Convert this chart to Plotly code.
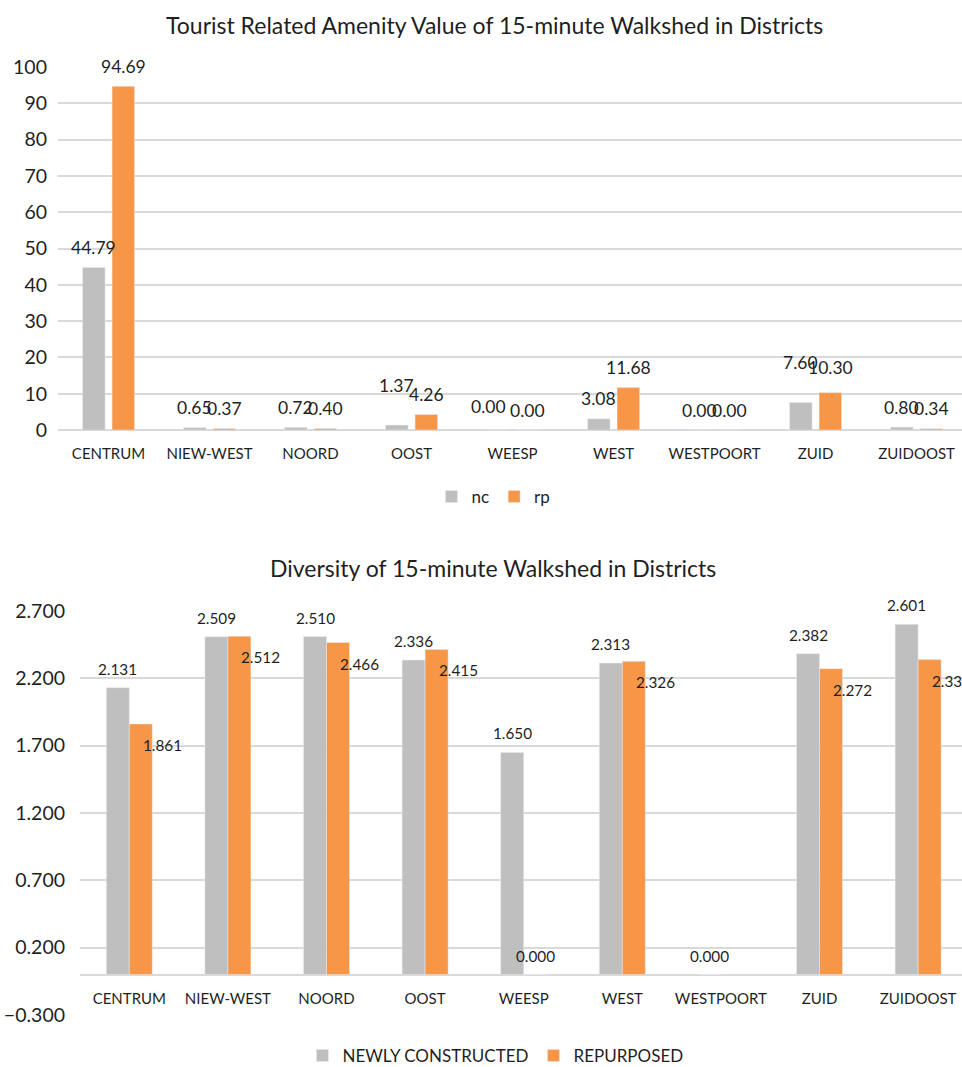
import plotly.graph_objects as go

# ---- data -------------------------------------------------------------
districts = ["CENTRUM", "NIEW-WEST", "NOORD", "OOST", "WEESP",
             "WEST", "WESTPOORT", "ZUID", "ZUIDOOST"]

tourist_nc = [44.79, 0.65, 0.72, 1.37, 0.00, 3.08, 0.00, 7.60, 0.80]
tourist_rp = [94.69, 0.37, 0.40, 4.26, 0.00, 11.68, 0.00, 10.30, 0.34]

diversity_nc = [2.131, 2.509, 2.510, 2.336, 1.650, 2.313, 0.000, 2.382, 2.601]
diversity_rp = [1.861, 2.512, 2.466, 2.415, 0.000, 2.326, None, 2.272, 2.339]

# ---- style ------------------------------------------------------------
GREY = "#bfbfbf"
ORANGE = "#f79646"
GRID = "#d9d9d9"
TEXT = "#1f1f1f"
FONT = "Lato"

W, H = 962, 1067

# hand-placed label nudges (x px, extra y px) for crowded data labels
top_nudge = {
    ("nc", "OOST"): (0, 20),
    ("nc", "ZUID"): (0, 20),
    ("rp", "ZUID"): (0, 5),
    ("nc", "WEESP"): (-9, 4),
}

fig = go.Figure()

# ---- upper chart: tourist amenity value -------------------------------
fig.add_trace(go.Bar(x=districts, y=tourist_nc, name="nc", marker_color=GREY,
                     width=0.223, offset=-0.257, xaxis="x", yaxis="y",
                     legend="legend", hoverinfo="x+y"))
fig.add_trace(go.Bar(x=districts, y=tourist_rp, name="rp", marker_color=ORANGE,
                     width=0.223, offset=0.035, xaxis="x", yaxis="y",
                     legend="legend", hoverinfo="x+y"))

annotations = []
for key, vals, xs in (("nc", tourist_nc, -14.75), ("rp", tourist_rp, 14.75)):
    for d, v in zip(districts, vals):
        dx, dy = top_nudge.get((key, d), (0, 0))
        annotations.append(dict(
            x=d, y=v, xref="x", yref="y", text=f"{v:.2f}", showarrow=False,
            xshift=xs + dx, yshift=20 + dy, yanchor="middle",
            font=dict(family=FONT, size=17.5, color=TEXT)))

# ---- lower chart: diversity ------------------------------------------
fig.add_trace(go.Bar(x=districts, y=diversity_nc, name="NEWLY CONSTRUCTED",
                     marker_color=GREY, width=0.2333, offset=-0.2333,
                     xaxis="x2", yaxis="y2", legend="legend2", hoverinfo="x+y"))
fig.add_trace(go.Bar(x=districts, y=diversity_rp, name="REPURPOSED",
                     marker_color=ORANGE, width=0.2333, offset=0.0,
                     xaxis="x2", yaxis="y2", legend="legend2", hoverinfo="x+y"))

label2_font = dict(family=FONT, size=15.3, color=TEXT)
for d, v in zip(districts, diversity_nc):
    annotations.append(dict(
        x=d, y=v, xref="x2", yref="y2", text=f"{v:.3f}", showarrow=False,
        xshift=-11.5, yshift=19, yanchor="middle", font=label2_font))
for d, v in zip(districts, diversity_rp):
    if v is None:
        continue
    if v == 0:
        annotations.append(dict(
            x=d, y=v, xref="x2", yref="y2", text=f"{v:.3f}", showarrow=False,
            xshift=11.5, yshift=19, yanchor="middle", font=label2_font))
    else:
        annotations.append(dict(
            x=d, y=v, xref="x2", yref="y2", text=f"{v:.3f}", showarrow=False,
            xshift=11.5, yshift=-21, xanchor="left", yanchor="middle",
            font=label2_font))

# chart titles
annotations.append(dict(
    x=495 / W, y=1 - 25 / H, xref="paper", yref="paper", showarrow=False,
    text="Tourist Related Amenity Value of 15-minute Walkshed in Districts",
    font=dict(family=FONT, size=23, color=TEXT), xanchor="center", yanchor="middle"))
annotations.append(dict(
    x=493 / W, y=1 - 568 / H, xref="paper", yref="paper", showarrow=False,
    text="Diversity of 15-minute Walkshed in Districts",
    font=dict(family=FONT, size=23, color=TEXT), xanchor="center", yanchor="middle"))

axis_font = dict(family=FONT, size=19.5, color=TEXT)
cat_font = dict(family=FONT, size=15, color=TEXT)

fig.update_layout(
    width=W, height=H,
    margin=dict(l=0, r=0, t=0, b=0, autoexpand=False),
    paper_bgcolor="white", plot_bgcolor="white",
    barmode="overlay",
    annotations=annotations,
    xaxis=dict(domain=[58 / W, 1], anchor="y", range=[-0.5, 8.45],
               type="category", categoryarray=districts,
               showgrid=False, showline=False, zeroline=False, automargin=False,
               ticks="", tickfont=cat_font, ticklabelstandoff=13),
    yaxis=dict(domain=[1 - 430 / H, 1 - 67 / H], anchor="x", range=[0, 100],
               tick0=0, dtick=10, showgrid=True, gridcolor=GRID, gridwidth=1.5,
               zeroline=True, zerolinecolor=GRID, zerolinewidth=1.5,
               showline=False, ticks="", tickfont=axis_font, automargin=False,
               ticklabelstandoff=10),
    xaxis2=dict(domain=[80 / W, 1], anchor="free", position=1 - 974 / H,
                range=[-0.5, 8.445], type="category", categoryarray=districts,
                showgrid=False, showline=False, zeroline=False, automargin=False,
                ticks="", tickfont=cat_font, ticklabelstandoff=14),
    yaxis2=dict(domain=[1 - 1015 / H, 1 - 611 / H], anchor="x2",
                range=[-0.3, 2.7], tick0=-0.3, dtick=0.5, tickformat=".3f",
                showgrid=True, gridcolor=GRID, gridwidth=1.5,
                zeroline=True, zerolinecolor=GRID, zerolinewidth=1.5,
                showline=False, ticks="", tickfont=axis_font, automargin=False,
                ticklabelstandoff=14),
    legend=dict(orientation="h", x=0.513, xanchor="center",
                y=1 - 497 / H, yanchor="middle",
                font=dict(family=FONT, size=17, color=TEXT),
                bgcolor="rgba(0,0,0,0)"),
    legend2=dict(orientation="h", x=0.515, xanchor="center",
                 y=1 - 1056 / H, yanchor="middle",
                 font=dict(family=FONT, size=17, color=TEXT),
                 bgcolor="rgba(0,0,0,0)"),
    showlegend=True,
)

fig.write_html("out.html")
